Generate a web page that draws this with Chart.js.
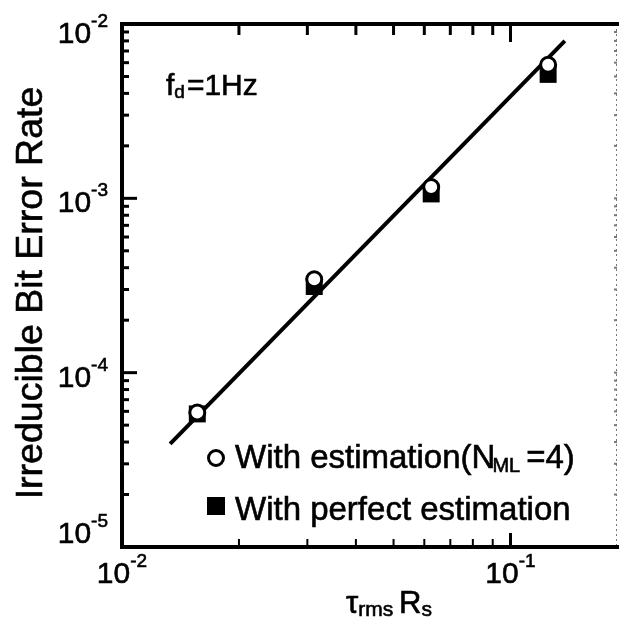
<!DOCTYPE html>
<html>
<head>
<meta charset="utf-8">
<script src="https://cdn.jsdelivr.net/npm/chart.js@4/dist/chart.umd.min.js"></script>
<style>
  html, body { margin: 0; padding: 0; background: #fff; }
  #wrap { width: 629px; height: 619px; }
</style>
</head>
<body>
<div id="wrap"><canvas id="c" width="629" height="619"></canvas></div>
<script>
// ---- data ----
const xValues = [0.015625, 0.03125, 0.0625, 0.125];           // tau_rms * Rs
const berWithEstimation = [5.9e-5, 3.43e-4, 1.16e-3, 5.83e-3]; // N_ML = 4
const berPerfectEstimation = [5.8e-5, 3.12e-4, 1.06e-3, 5.14e-3];
const fitX = [0.0133, 0.138];
const fitY = [3.9e-5, 8.0e-3];
const xMajorTicks = [0.01, 0.1];
const yMajorTicks = [1e-5, 1e-4, 1e-3, 1e-2];
const xRange = [0.01, 0.188];
const yRange = [1e-5, 1e-2];

const FONT = '"Liberation Sans", Arial, Helvetica, sans-serif';

function minorTicks(min, max) {
  const out = [];
  for (let e = Math.floor(Math.log10(min)); e <= Math.ceil(Math.log10(max)); e++) {
    for (let m = 2; m <= 9; m++) {
      const v = m * Math.pow(10, e);
      if (v > min && v < max) out.push(v);
    }
  }
  return out;
}

function txt(ctx, s, x, y) {
  ctx.fillText(s, x, y);
  ctx.strokeText(s, x, y);
}

function drawPow(ctx, xLeft, baseline, exp) {
  ctx.font = '30px ' + FONT;
  ctx.textAlign = 'left';
  ctx.textBaseline = 'alphabetic';
  txt(ctx, '10', xLeft, baseline);
  const wb = ctx.measureText('10').width;
  ctx.font = '19px ' + FONT;
  txt(ctx, exp, xLeft + wb, baseline - 16);
}
function powWidth(ctx, exp) {
  ctx.font = '30px ' + FONT;
  const wb = ctx.measureText('10').width;
  ctx.font = '19px ' + FONT;
  return wb + ctx.measureText(exp).width;
}

const decor = {
  id: 'decor',
  afterDraw(chart) {
    const ctx = chart.ctx;
    const xs = chart.scales.x, ys = chart.scales.y;
    const a = chart.chartArea;
    ctx.save();
    ctx.fillStyle = '#000';
    ctx.strokeStyle = '#000';

    // right border (faint, dotted)
    ctx.lineWidth = 1;
    ctx.strokeStyle = '#777';
    ctx.setLineDash([2, 3]);
    ctx.beginPath();
    ctx.moveTo(a.right - 0.5, a.top);
    ctx.lineTo(a.right - 0.5, a.bottom);
    ctx.stroke();
    ctx.setLineDash([]);
    // right ticks
    ctx.lineWidth = 2;
    minorTicks(yRange[0], yRange[1]).concat(yMajorTicks).forEach(v => {
      const y = ys.getPixelForValue(v);
      ctx.beginPath(); ctx.moveTo(a.right, y); ctx.lineTo(a.right - 3, y); ctx.stroke();
    });

    ctx.strokeStyle = '#000';
    // main frame
    ctx.lineWidth = 4;
    ctx.lineCap = 'square';
    ctx.beginPath();
    ctx.moveTo(a.right, a.top);
    ctx.lineTo(a.left, a.top);
    ctx.lineTo(a.left, a.bottom);
    ctx.lineTo(a.right, a.bottom);
    ctx.stroke();
    ctx.lineCap = 'butt';

    // x ticks (bottom & top)
    minorTicks(xRange[0], xRange[1]).forEach(v => {
      const x = xs.getPixelForValue(v);
      ctx.lineWidth = 2;
      ctx.beginPath(); ctx.moveTo(x, a.bottom); ctx.lineTo(x, a.bottom - 8); ctx.stroke();
      ctx.lineWidth = 3;
      ctx.beginPath(); ctx.moveTo(x, a.top); ctx.lineTo(x, a.top + 11); ctx.stroke();
    });
    xMajorTicks.forEach(v => {
      const x = xs.getPixelForValue(v);
      ctx.lineWidth = 3;
      ctx.beginPath(); ctx.moveTo(x, a.bottom); ctx.lineTo(x, a.bottom - 14); ctx.stroke();
      ctx.beginPath(); ctx.moveTo(x, a.top); ctx.lineTo(x, a.top + 18); ctx.stroke();
    });
    // y ticks (left)
    minorTicks(yRange[0], yRange[1]).forEach(v => {
      const y = ys.getPixelForValue(v);
      ctx.lineWidth = 3;
      ctx.beginPath(); ctx.moveTo(a.left, y); ctx.lineTo(a.left + 7, y); ctx.stroke();
    });
    yMajorTicks.forEach(v => {
      const y = ys.getPixelForValue(v);
      ctx.lineWidth = 3;
      ctx.beginPath(); ctx.moveTo(a.left, y); ctx.lineTo(a.left + 15, y); ctx.stroke();
    });

    // text styling: slight stroke to mimic the heavier scanned print
    ctx.lineWidth = 0.6;
    ctx.strokeStyle = '#000';

    // tick labels
    xMajorTicks.forEach(v => {
      const x = xs.getPixelForValue(v);
      const exp = String(Math.round(Math.log10(v)));
      const w = powWidth(ctx, exp);
      drawPow(ctx, x - w / 2, 583, exp);
    });
    yMajorTicks.forEach(v => {
      const y = ys.getPixelForValue(v);
      const exp = String(Math.round(Math.log10(v)));
      const w = powWidth(ctx, exp);
      const base = Math.min(543, Math.max(43, y + 14));
      drawPow(ctx, 108 - w, base, exp);
    });

    // y title
    ctx.save();
    ctx.translate(42, 293);
    ctx.rotate(-Math.PI / 2);
    ctx.font = '37.5px ' + FONT;
    ctx.textAlign = 'center';
    ctx.textBaseline = 'alphabetic';
    txt(ctx, 'Irreducible Bit Error Rate', 0, 0);
    ctx.restore();

    // x title: tau_rms R_s
    ctx.textAlign = 'left';
    ctx.textBaseline = 'alphabetic';
    let x0 = 346;
    ctx.font = '31px ' + FONT;
    txt(ctx, '\u03C4', x0, 613);
    x0 += ctx.measureText('\u03C4').width;
    ctx.font = '21px ' + FONT;
    txt(ctx, 'rms', x0, 616);
    x0 += ctx.measureText('rms ').width;
    ctx.font = '31px ' + FONT;
    txt(ctx, 'R', x0, 613);
    x0 += ctx.measureText('R').width;
    ctx.font = '21px ' + FONT;
    txt(ctx, 's', x0, 616);

    // annotation f_d = 1Hz
    x0 = 166;
    ctx.font = '30px ' + FONT;
    txt(ctx, 'f', x0, 95);
    x0 += ctx.measureText('f').width;
    ctx.font = '19px ' + FONT;
    txt(ctx, 'd', x0, 98);
    x0 += ctx.measureText('d').width + 2;
    ctx.font = '30px ' + FONT;
    txt(ctx, '=1Hz', x0, 95);

    // legend
    ctx.lineWidth = 3;
    ctx.fillStyle = '#fff';
    ctx.beginPath(); ctx.arc(216, 458, 7.5, 0, Math.PI * 2); ctx.fill(); ctx.stroke();
    ctx.fillStyle = '#000';
    ctx.fillRect(207, 497, 18, 18);
    ctx.lineWidth = 0.6;
    x0 = 235;
    ctx.font = '33px ' + FONT;
    txt(ctx, 'With estimation(N', x0, 468);
    x0 += ctx.measureText('With estimation(N').width;
    ctx.font = '20px ' + FONT;
    txt(ctx, 'ML', x0 - 3, 472);
    x0 += ctx.measureText('ML').width + 3;
    ctx.font = '33px ' + FONT;
    txt(ctx, '=4)', x0, 468);
    txt(ctx, 'With perfect estimation', 235, 520);

    ctx.restore();
  }
};

new Chart(document.getElementById('c'), {
  type: 'scatter',
  data: {
    datasets: [
      {
        label: 'With estimation (N_ML=4)',
        data: xValues.map((x, i) => ({ x, y: berWithEstimation[i] })),
        pointStyle: 'circle',
        pointRadius: 7.5,
        borderWidth: 3,
        borderColor: '#000',
        backgroundColor: '#fff',
        order: 0
      },
      {
        label: 'With perfect estimation',
        data: xValues.map((x, i) => ({ x, y: berPerfectEstimation[i] })),
        pointStyle: 'rect',
        pointRadius: 12,
        borderWidth: 0,
        borderColor: '#000',
        backgroundColor: '#000',
        order: 1
      },
      {
        type: 'line',
        label: 'fit',
        data: fitX.map((x, i) => ({ x, y: fitY[i] })),
        borderColor: '#000',
        borderWidth: 4,
        pointRadius: 0,
        fill: false,
        tension: 0,
        order: 2
      }
    ]
  },
  options: {
    responsive: false,
    animation: false,
    devicePixelRatio: 1,
    layout: { padding: { left: 122, top: 24, right: 1, bottom: 72 } },
    plugins: { legend: { display: false }, tooltip: { enabled: false } },
    scales: {
      x: {
        type: 'logarithmic', min: xRange[0], max: xRange[1],
        grid: { display: false, drawTicks: false },
        border: { display: false },
        ticks: { display: false }
      },
      y: {
        type: 'logarithmic', min: yRange[0], max: yRange[1],
        grid: { display: false, drawTicks: false },
        border: { display: false },
        ticks: { display: false }
      }
    }
  },
  plugins: [decor]
});
</script>
</body>
</html>
